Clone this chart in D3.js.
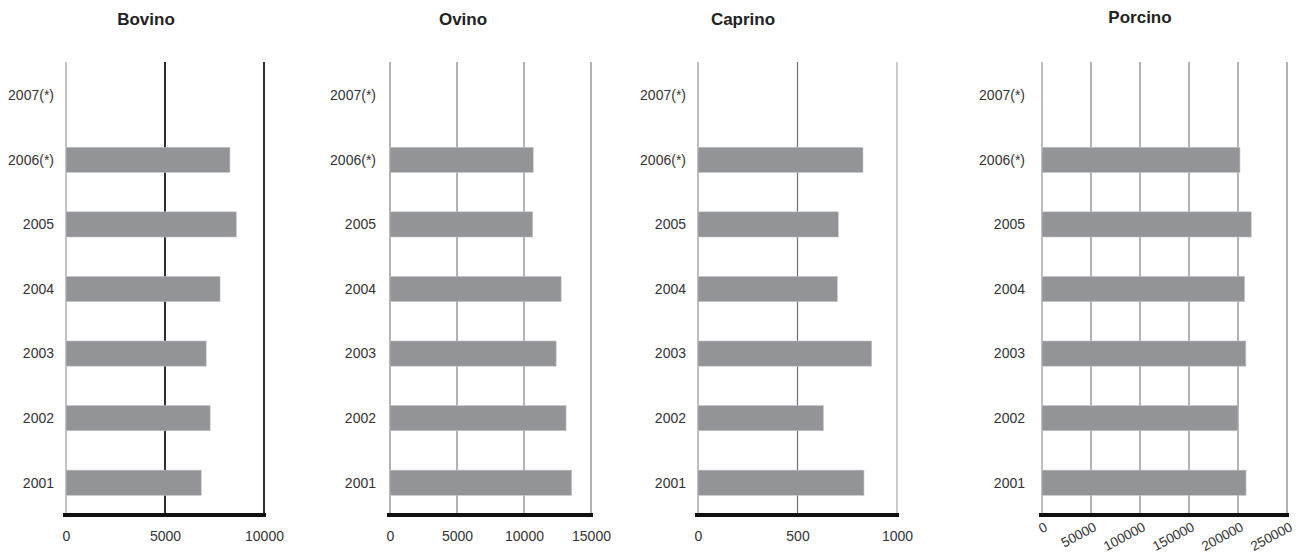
<!DOCTYPE html>
<html><head><meta charset="utf-8">
<script src="https://cdn.jsdelivr.net/npm/d3@7"></script>
<style>body{margin:0;background:#fff}svg{display:block}text{font-family:"Liberation Sans",Arial,sans-serif}</style>
</head><body><svg id="c" width="1304" height="557"></svg>
<script>
const years = ["2007(*)","2006(*)","2005","2004","2003","2002","2001"];
const titles = ["Bovino","Ovino","Caprino","Porcino"];
const bovino  = [null, 8280, 8600, 7780, 7080, 7280, 6830];
const ovino   = [null, 10690, 10650, 12770, 12400, 13140, 13560];
const caprino = [null, 829, 705, 700, 873, 630, 834];
const porcino = [null, 202000, 213500, 206700, 208000, 200000, 208200];
const bovinoTicks  = [0, 5000, 10000];
const ovinoTicks   = [0, 5000, 10000, 15000];
const caprinoTicks = [0, 500, 1000];
const porcinoTicks = [0, 50000, 100000, 150000, 200000, 250000];

const panels = [
  {title:titles[0], vals:bovino,  ticks:bovinoTicks,  range:[66,264],   labelGap:12, titleX:146, titleY:25, grid:"#2e2e2e", gridW:2,   zeroCol:"#b0b0b0", rot:false},
  {title:titles[1], vals:ovino,   ticks:ovinoTicks,   range:[390,591],  labelGap:14, titleX:463, titleY:25, grid:"#9a9a9a", gridW:1.5, zeroCol:"#9a9a9a", rot:false},
  {title:titles[2], vals:caprino, ticks:caprinoTicks, range:[698,897],  labelGap:12, titleX:743, titleY:25, grid:"#707070", gridW:1.2, zeroCol:"#a8a8a8", lastCol:"#a8a8a8", rot:false},
  {title:titles[3], vals:porcino, ticks:porcinoTicks, range:[1042,1287],labelGap:17, titleX:1140,titleY:23, grid:"#9a9a9a", gridW:1.5, zeroCol:"#a8a8a8", rot:true}
];
const plotTop = 62, plotBottom = 515;
const svg = d3.select("#c");
const y = d3.scaleBand().domain(years).range([plotTop+1, plotBottom]).paddingInner(0.61).paddingOuter(0.305);

panels.forEach(p => {
  const x = d3.scaleLinear().domain([0, p.ticks[p.ticks.length-1]]).range(p.range);
  const g = svg.append("g");
  g.append("text").attr("x", p.titleX).attr("y", p.titleY).attr("text-anchor","middle")
    .attr("font-size", 17).attr("font-weight","bold").attr("fill","#222").text(p.title);
  g.selectAll("line.grid").data(p.ticks).join("line").attr("class","grid")
    .attr("x1", d=>x(d)).attr("x2", d=>x(d)).attr("y1", plotTop).attr("y2", plotBottom)
    .attr("stroke", (d,i)=> i===0 ? p.zeroCol : (i===p.ticks.length-1 && p.lastCol ? p.lastCol : p.grid))
    .attr("stroke-width", (d,i)=> i===0 ? 1.5 : p.gridW);
  const data = years.map((yr,i)=>({yr, v:p.vals[i]})).filter(d=>d.v!=null);
  g.selectAll("rect").data(data).join("rect")
    .attr("x", x(0)).attr("y", d=>y(d.yr)).attr("width", d=>x(d.v)-x(0)).attr("height", y.bandwidth())
    .attr("fill","#939497").attr("stroke","#c4c4c6").attr("stroke-width",0.6);
  g.selectAll("text.cat").data(years).join("text").attr("class","cat")
    .attr("x", x(0)-p.labelGap).attr("y", d=>y(d)+y.bandwidth()/2).attr("dy","0.35em")
    .attr("text-anchor","end").attr("font-size",14).attr("fill","#333").text(d=>d);
  const ax = g.append("g").attr("transform",`translate(0,${plotBottom})`)
    .call(d3.axisBottom(x).tickValues(p.ticks).tickSize(0).tickPadding(16).tickFormat(d3.format("d")));
  ax.select(".domain").attr("stroke","#111").attr("stroke-width",4).attr("d",`M${p.range[0]-3},0H${p.range[1]+2}`);
  ax.selectAll("text").attr("font-size",14).attr("fill","#333").attr("font-family","'Liberation Sans',Arial,sans-serif");
  if (p.rot) {
    ax.selectAll(".tick text").attr("text-anchor","end").attr("y",0).attr("dy",0)
      .attr("font-size",13.5)
      .attr("transform","translate(6,15) rotate(-28)");
  }
});
</script></body></html>
